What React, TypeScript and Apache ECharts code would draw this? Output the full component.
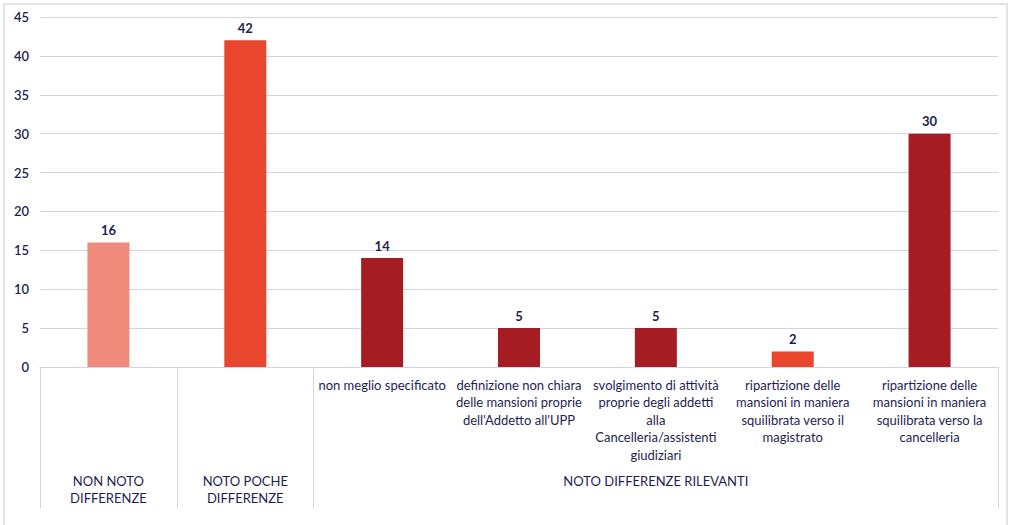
import React, { useEffect, useRef } from "react";
import * as echarts from "echarts";

const subCategories = [
  "",
  "",
  "non meglio specificato",
  "definizione non chiara\ndelle mansioni proprie\ndell'Addetto all'UPP",
  "svolgimento di attività\nproprie degli addetti\nalla\nCancelleria/assistenti\ngiudiziari",
  "ripartizione delle\nmansioni in maniera\nsquilibrata verso il\nmagistrato",
  "ripartizione delle\nmansioni in maniera\nsquilibrata verso la\ncancelleria",
];

const groupLabels = [
  "NON NOTO\nDIFFERENZE",
  "NOTO POCHE\nDIFFERENZE",
  "",
  "",
  "NOTO DIFFERENZE RILEVANTI",
  "",
  "",
];

const values = [16, 42, 14, 5, 5, 2, 30];
const barColors = ["#F08A7A", "#E8462D", "#A51C22", "#A51C22", "#A51C22", "#E8462D", "#A51C22"];

const yTicks = { min: 0, max: 45, interval: 5 };

const TEXT = "#1E1E50";
const GRID_LINE = "#D3D3E6";
const FONT = "Lato";

export default function App() {
  const ref = useRef<HTMLDivElement>(null);
  useEffect(() => {
    if (!ref.current) return;
    const chart = echarts.init(ref.current, null, { renderer: "svg" });
    chart.setOption({
      animation: false,
      backgroundColor: "#ffffff",
      textStyle: { fontFamily: FONT },
      grid: { left: 40, right: 11, top: 17, bottom: 158, containLabel: false },
      xAxis: [
        {
          type: "category",
          data: subCategories,
          position: "bottom",
          axisLine: { show: true, lineStyle: { color: GRID_LINE, width: 1 } },
          axisTick: {
            show: true,
            length: 141,
            interval: (index: number) => index <= 2,
            lineStyle: { color: GRID_LINE, width: 1 },
          },
          axisLabel: {
            interval: 0,
            margin: 9,
            color: TEXT,
            fontFamily: FONT,
            fontSize: 13,
            lineHeight: 17.5,
            align: "center",
          },
        },
        {
          type: "category",
          data: groupLabels,
          position: "bottom",
          offset: 0,
          axisLine: { show: false },
          axisTick: { show: false },
          axisLabel: {
            interval: 0,
            margin: 105,
            color: TEXT,
            fontFamily: FONT,
            fontSize: 13,
            lineHeight: 17,
            align: "center",
          },
        },
      ],
      yAxis: {
        type: "value",
        min: yTicks.min,
        max: yTicks.max,
        interval: yTicks.interval,
        axisLine: { show: false },
        axisTick: { show: false },
        splitLine: { lineStyle: { color: GRID_LINE, width: 1 } },
        axisLabel: {
          margin: 11,
          color: TEXT,
          fontFamily: FONT,
          fontSize: 13,
          fontWeight: 600,
        },
      },
      series: [
        {
          type: "bar",
          xAxisIndex: 0,
          barWidth: 42,
          data: values.map((v, i) => ({ value: v, itemStyle: { color: barColors[i] } })),
          label: {
            show: true,
            position: "top",
            distance: 6,
            color: TEXT,
            fontFamily: FONT,
            fontSize: 13,
            fontWeight: "bold",
          },
        },
      ],
      graphic: [
        {
          type: "rect",
          shape: { x: 4, y: 4, width: 1003, height: 530 },
          style: { fill: "none", stroke: "#D9D9E6", lineWidth: 1.5 },
          silent: true,
        },
      ],
    });
    return () => chart.dispose();
  }, []);
  return (
    <div
      ref={ref}
      style={{ position: "absolute", left: 0, top: 0, width: 1009, height: 525, background: "#fff" }}
    />
  );
}
